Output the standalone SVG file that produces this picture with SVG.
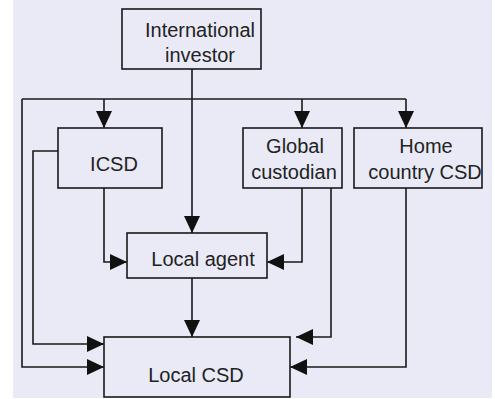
<svg xmlns="http://www.w3.org/2000/svg" width="495" height="399" viewBox="0 0 495 399">
<style>
.box{fill:#e9eaf6;stroke:#1a1a1a;stroke-width:1.6}
.lbl{font-family:"Liberation Sans",Arial,sans-serif;font-size:20px;fill:#222;text-anchor:middle}
.ln{fill:none;stroke:#1a1a1a;stroke-width:1.6}
.arr{marker-end:url(#ah)}
</style>
<defs>
<marker id="ah" markerUnits="userSpaceOnUse" markerWidth="17" markerHeight="16" refX="17" refY="8" orient="auto">
<path d="M0,0 L17,8 L0,16 z" fill="#111"/>
</marker>
</defs>
<rect x="0" y="0" width="495" height="399" fill="#ffffff"/>
<rect x="13" y="0" width="479" height="398" fill="#e9eaf6"/>
<g id="connectors">
<path class="ln" d="M22,99 H406"/>
<path class="ln arr" d="M192,69 V233"/>
<path class="ln arr" d="M104,99 V128"/>
<path class="ln arr" d="M302,99 V128"/>
<path class="ln arr" d="M406,99 V128"/>
<path class="ln arr" d="M22,99 V367 H104"/>
<path class="ln arr" d="M58,151 H33 V344 H104"/>
<path class="ln arr" d="M104,188 V262 H127"/>
<path class="ln arr" d="M302,188 V262 H267"/>
<path class="ln arr" d="M331,188 V337 H296"/>
<path class="ln arr" d="M406,188 V367 H290"/>
<path class="ln arr" d="M192,278 V337"/>
</g>
<g id="investor">
<rect class="box" x="122" y="9" width="139" height="60"/>
<text class="lbl" x="200" y="37">International</text>
<text class="lbl" x="200" y="62">investor</text>
</g>
<g id="icsd">
<rect class="box" x="58" y="128" width="104" height="60"/>
<text class="lbl" x="114" y="171">ICSD</text>
</g>
<g id="global-custodian">
<rect class="box" x="243" y="128" width="99" height="60"/>
<text class="lbl" x="295" y="153">Global</text>
<text class="lbl" x="294" y="179">custodian</text>
</g>
<g id="home-country-csd">
<rect class="box" x="354" y="128" width="128" height="60"/>
<text class="lbl" x="426" y="153">Home</text>
<text class="lbl" x="425" y="179">country CSD</text>
</g>
<g id="local-agent">
<rect class="box" x="127" y="233" width="140" height="45"/>
<text class="lbl" x="203" y="266">Local agent</text>
</g>
<g id="local-csd">
<rect class="box" x="104" y="337" width="186" height="60"/>
<text class="lbl" x="196" y="382">Local CSD</text>
</g>
</svg>
